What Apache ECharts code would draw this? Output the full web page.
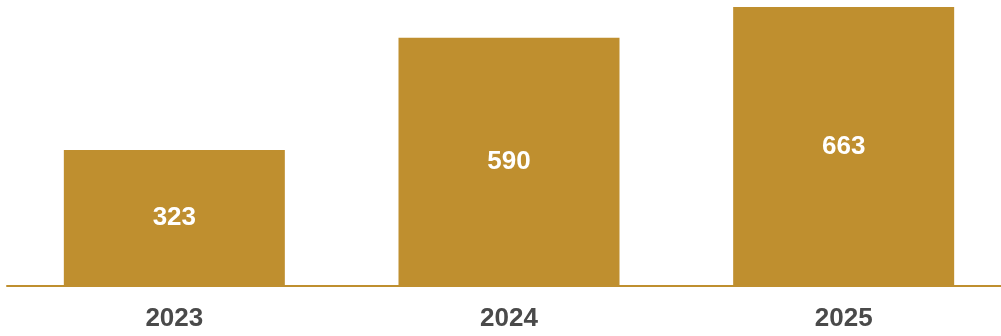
<!DOCTYPE html>
<html><head><meta charset="utf-8">
<script src="https://cdn.jsdelivr.net/npm/echarts@6/dist/echarts.min.js"></script>
<style>html,body{margin:0;padding:0;background:#fff}#c{width:1001px;height:336px}</style>
</head><body><div id="c"></div>
<script>
const categories = ['2023', '2024', '2025'];
const values = [323, 590, 663];

const FONT = '"Liberation Sans", Arial, Helvetica, sans-serif';
const chart = echarts.init(document.getElementById('c'), null, {renderer: 'canvas'});
chart.setOption({
  animation: false,
  grid: {left: 7, width: 1004, top: 7, bottom: 50, containLabel: false, outerBoundsMode: 'none'},
  xAxis: {
    type: 'category',
    data: categories,
    axisLine: {show: true, lineStyle: {color: '#BF8F2F', width: 2}},
    axisTick: {show: false},
    axisLabel: {color: '#4a4a4a', fontSize: 26, fontWeight: 'bold', fontFamily: FONT, margin: 20}
  },
  yAxis: {type: 'value', min: 0, max: 663, show: false, splitLine: {show: false}},
  series: [{
    type: 'bar',
    data: values,
    barWidth: 221,
    itemStyle: {color: '#BF8F2F'},
    label: {show: true, position: 'inside', color: '#fff', fontSize: 26, fontWeight: 'bold', fontFamily: FONT}
  }]
});
</script></body></html>
